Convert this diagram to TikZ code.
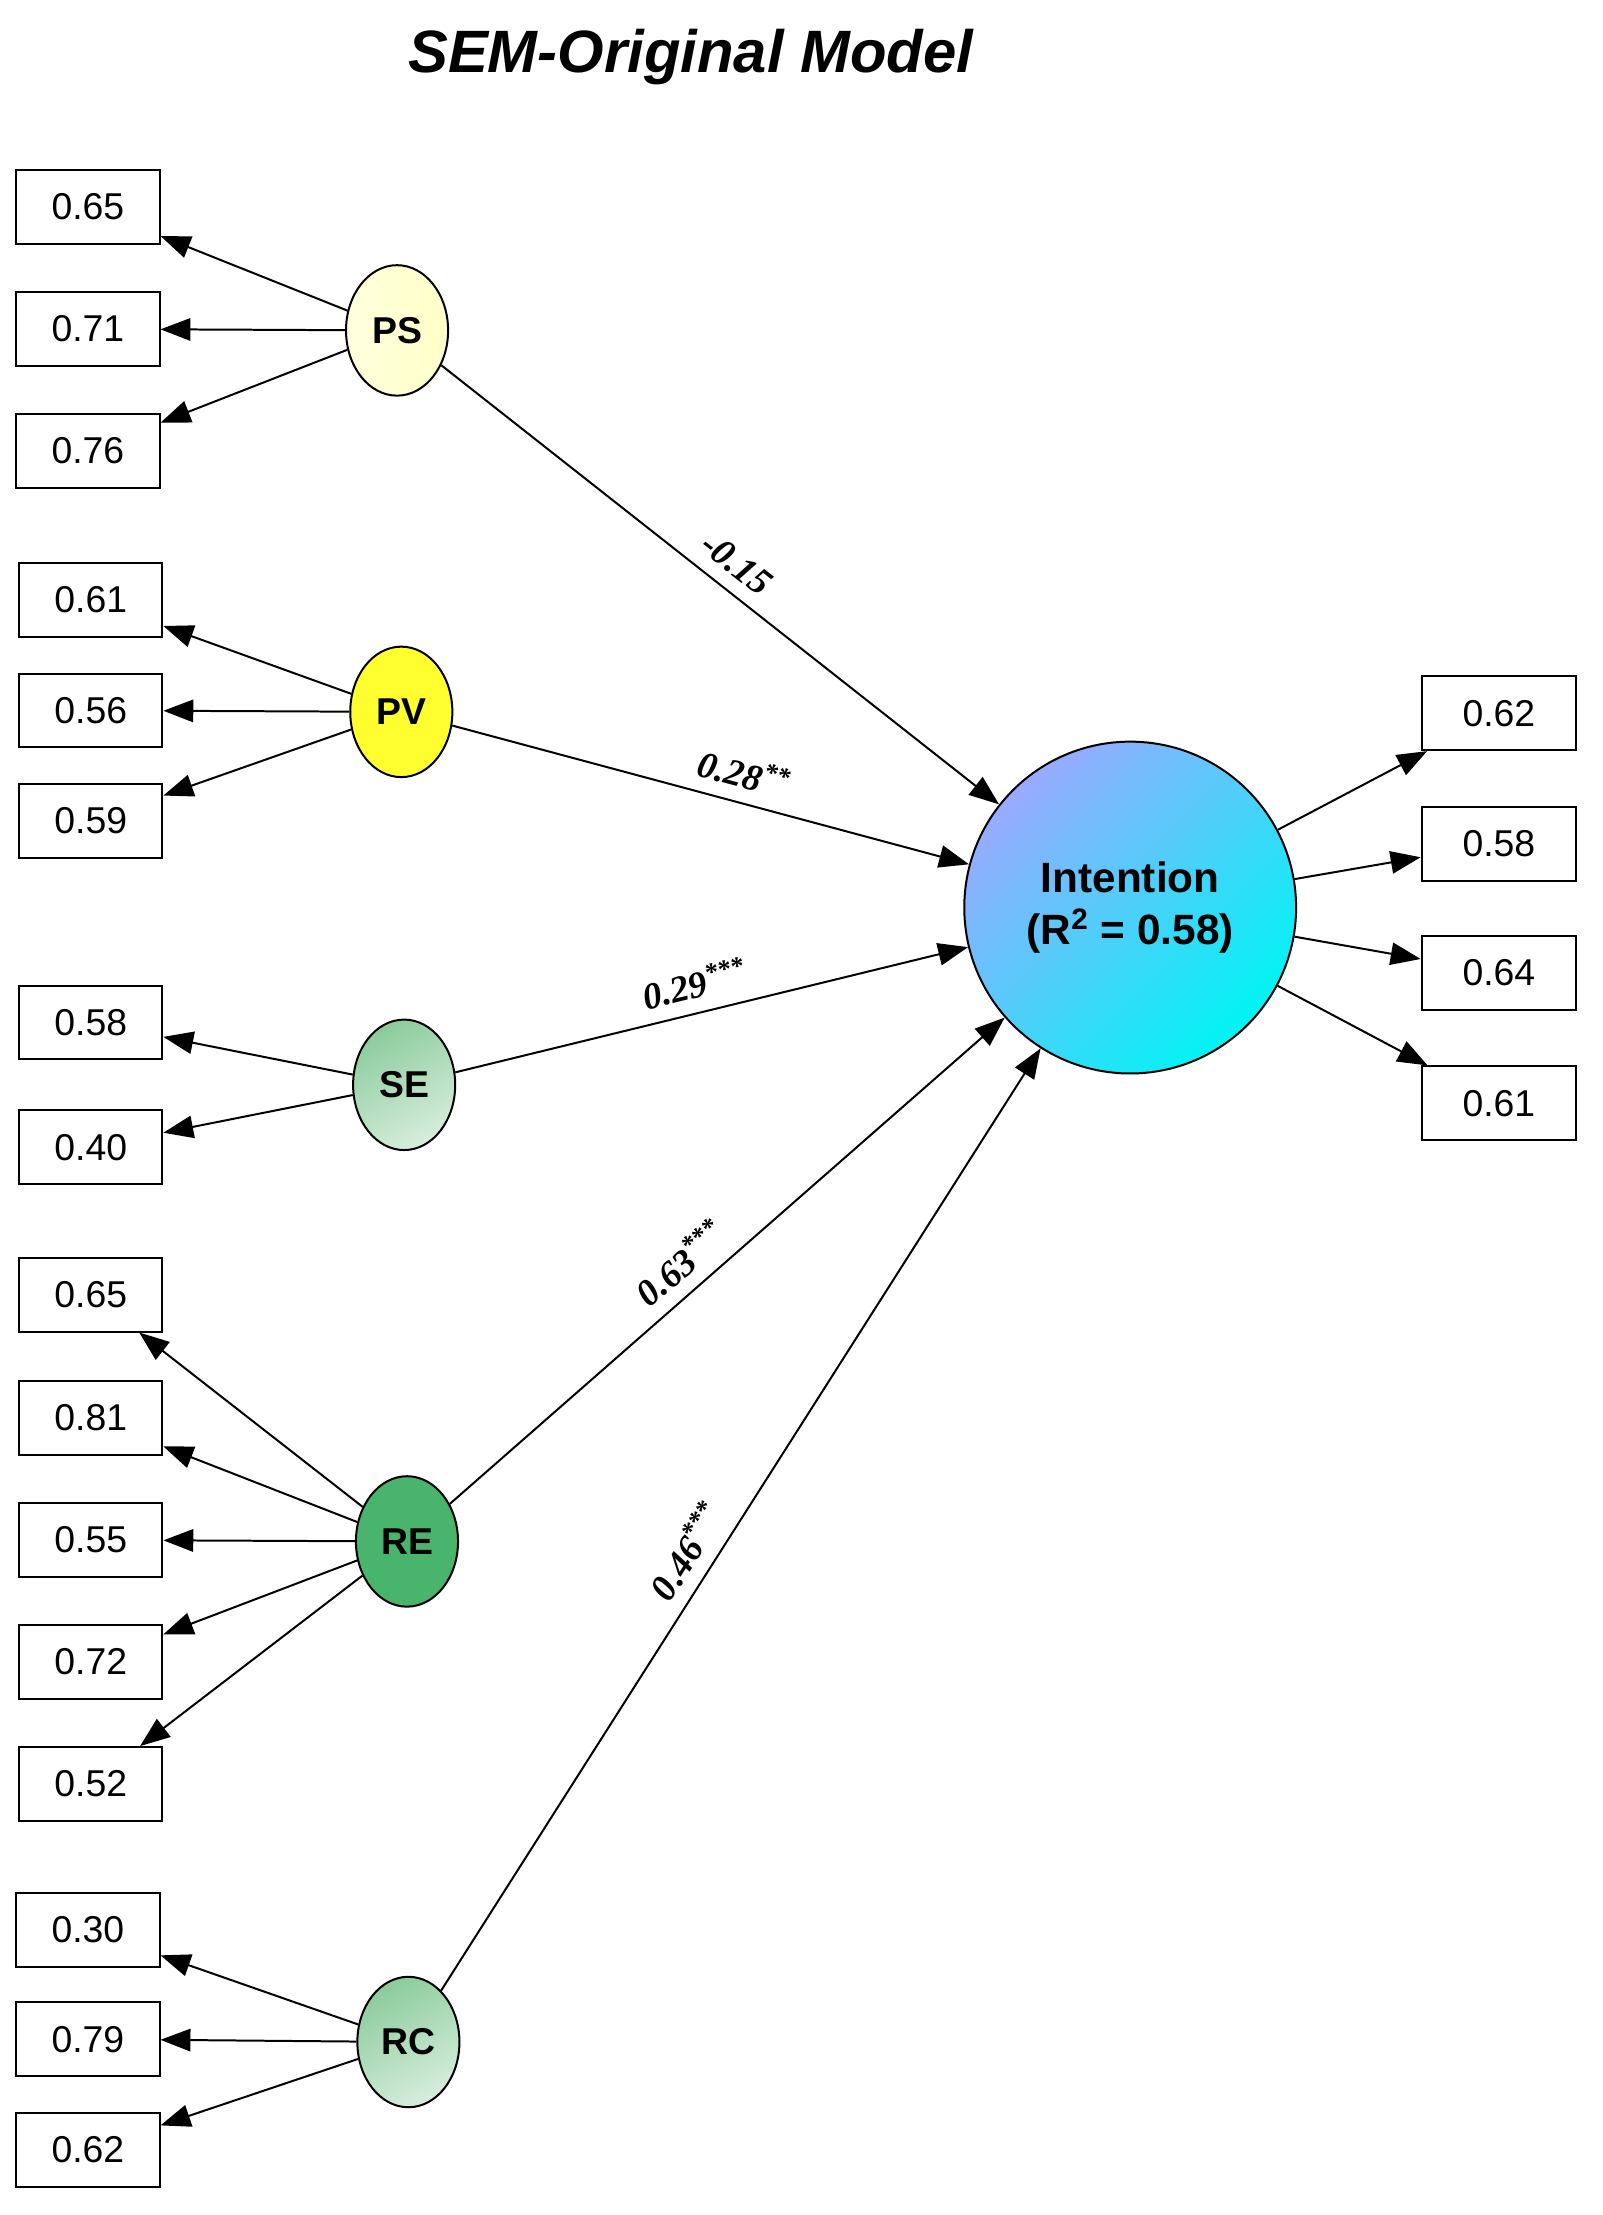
\documentclass[tikz,border=0pt]{standalone}
\usepackage{fontspec}
\setmainfont{Liberation Sans}
\newfontfamily\labfont{Liberation Serif}
\usetikzlibrary{arrows.meta,shapes.geometric}
\definecolor{psyel}{HTML}{FFFFC8}
\definecolor{pvyel}{HTML}{FFFF30}
\definecolor{segrn}{HTML}{8CCC9C}
\definecolor{regrn}{HTML}{48B46C}
\definecolor{rcgrn}{HTML}{8CCC9C}
\definecolor{intblue}{HTML}{9AAAFF}
\definecolor{intcyan}{HTML}{00F4F4}
\tikzset{
  ind/.style={draw,thick,minimum width=101*0.02cm,minimum height=52*0.02cm,font=\fontsize{15}{15}\selectfont},
  lat/.style={draw,thick,ellipse,minimum width=72*0.02cm,minimum height=92*0.02cm,font=\bfseries\fontsize{15}{15}\selectfont},
  load/.style={-{Triangle[length=12pt,width=9pt]},thick},
  path/.style={-{Triangle[length=12pt,width=9pt]},thick},
  coef/.style={sloped,above=2pt,font=\labfont\bfseries\itshape\fontsize{15}{15}\selectfont}
}
\begin{document}
\begin{tikzpicture}[x=0.02cm,y=-0.02cm]
\useasboundingbox (0,0) rectangle (1130,1562);
\node[font=\bfseries\itshape\fontsize{24}{24}\selectfont] (title) at (487,40) {SEM-Original Model};

% latent variables
\node[lat,left color=psyel!60,right color=psyel] (PS) at (280,233) {PS};
\node[lat,fill=pvyel] (PV) at (283,502) {PV};
\node[lat,top color=segrn,bottom color=segrn!35,shading angle=30] (SE) at (285,765) {SE};
\node[lat,fill=regrn] (RE) at (287,1087) {RE};
\node[lat,top color=rcgrn,bottom color=rcgrn!35,shading angle=30] (RC) at (288,1440) {RC};
\node[draw,thick,circle,minimum size=234*0.02cm,inner sep=0pt,
  top color=intblue,bottom color=intcyan,shading angle=45,
  align=center,font=\bfseries\fontsize{17}{21}\selectfont] (INT) at (797,640) {Intention\\(R\textsuperscript{2} = 0.58)};

% indicators
\foreach \n/\y/\v in {a/146/0.65,b/232/0.71,c/318/0.76}
  {\node[ind] (PS\n) at (62,\y) {\v}; \draw[load] (PS) -- (PS\n);}
\foreach \n/\y/\v in {a/423/0.61,b/501/0.56,c/579/0.59}
  {\node[ind] (PV\n) at (64,\y) {\v}; \draw[load] (PV) -- (PV\n);}
\foreach \n/\y/\v in {a/721/0.58,b/809/0.40}
  {\node[ind] (SE\n) at (64,\y) {\v}; \draw[load] (SE) -- (SE\n);}
\foreach \n/\y/\v in {a/913/0.65,b/1000/0.81,c/1086/0.55,d/1172/0.72,e/1258/0.52}
  {\node[ind] (RE\n) at (64,\y) {\v}; \draw[load] (RE) -- (RE\n);}
\foreach \n/\y/\v in {a/1361/0.30,b/1438/0.79,c/1516/0.62}
  {\node[ind] (RC\n) at (62,\y) {\v}; \draw[load] (RC) -- (RC\n);}
\foreach \n/\y/\v in {a/503/0.62,b/595/0.58,c/686/0.64,d/778/0.61}
  {\node[ind,minimum width=109*0.02cm] (INT\n) at (1057,\y) {\v}; \draw[load] (INT) -- (INT\n);}

% structural paths
\draw[path] (PS) -- node[coef,pos=0.5] {-0.15} (INT);
\draw[path] (PV) -- node[coef,pos=0.55] {0.28\textsuperscript{**}} (INT);
\draw[path] (SE) -- node[coef,pos=0.48] {0.29\textsuperscript{***}} (INT);
\draw[path] (RE) -- node[coef,pos=0.45] {0.63\textsuperscript{***}} (INT);
\draw[path] (RC) -- node[coef,pos=0.45] {0.46\textsuperscript{***}} (INT);
\end{tikzpicture}
\end{document}
